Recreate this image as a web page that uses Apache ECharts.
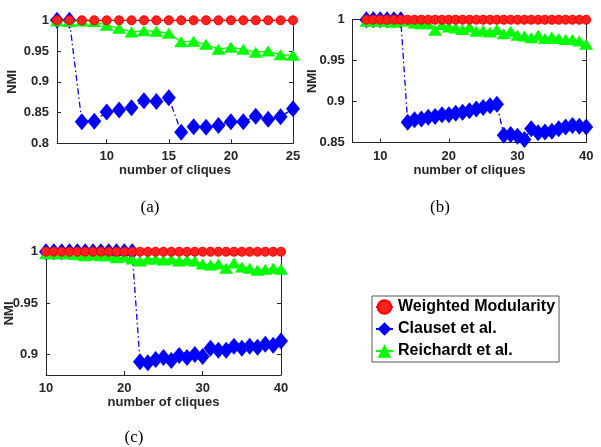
<!DOCTYPE html>
<html><head><meta charset="utf-8">
<script src="https://cdn.jsdelivr.net/npm/echarts@6/dist/echarts.min.js"></script>
<style>html,body{margin:0;padding:0;background:#fff}#c{width:601px;height:447px}</style>
</head><body><div id="c"></div>
<script>
// ---- Panel (a) ----
const xA = [6,7,8,9,10,11,12,13,14,15,16,17,18,19,20,21,22,23,24,25];
const redA = [1,1,1,1,1,1,1,1,1,1,1,1,1,1,1,1,1,1,1,1];
const blueA = [1.0,1.0,0.835,0.836,0.851,0.854,0.858,0.869,0.868,0.874,0.818,0.827,0.826,0.829,0.835,0.835,0.844,0.839,0.843,0.856];
const greenA = [0.999,0.998,0.999,0.998,0.992,0.987,0.981,0.983,0.982,0.979,0.965,0.966,0.961,0.953,0.956,0.953,0.948,0.950,0.944,0.943];
// ---- Panel (b) ----
const xB = [8,9,10,11,12,13,14,15,16,17,18,19,20,21,22,23,24,25,26,27,28,29,30,31,32,33,34,35,36,37,38,39,40];
const redB = [1,1,1,1,1,1,1,1,1,1,1,1,1,1,1,1,1,1,1,1,1,1,1,1,1,1,1,1,1,1,1,1,1];
const blueB = [1.0,1.0,1.0,1.0,1.0,1.0,0.875,0.878,0.879,0.881,0.882,0.884,0.884,0.886,0.887,0.889,0.891,0.893,0.895,0.897,0.859,0.860,0.858,0.854,0.867,0.862,0.863,0.864,0.867,0.869,0.871,0.870,0.869];
const greenB = [0.998,0.998,0.998,0.998,0.997,0.998,0.999,0.996,0.995,0.995,0.987,0.994,0.991,0.990,0.988,0.991,0.986,0.987,0.985,0.988,0.983,0.986,0.981,0.980,0.978,0.981,0.977,0.979,0.977,0.976,0.976,0.974,0.970];
// ---- Panel (c) ----
const xC = [10,11,12,13,14,15,16,17,18,19,20,21,22,23,24,25,26,27,28,29,30,31,32,33,34,35,36,37,38,39,40];
const redC = [1,1,1,1,1,1,1,1,1,1,1,1,1,1,1,1,1,1,1,1,1,1,1,1,1,1,1,1,1,1,1];
const blueC = [1,1,1,1,1,1,1,1,1,1,1,1,0.893,0.892,0.895,0.897,0.894,0.899,0.897,0.900,0.898,0.906,0.904,0.904,0.908,0.906,0.908,0.907,0.910,0.909,0.913];
const greenC = [0.998,0.998,0.998,0.998,0.997,0.996,0.997,0.996,0.996,0.994,0.995,0.993,0.991,0.993,0.993,0.992,0.993,0.991,0.992,0.991,0.988,0.987,0.988,0.984,0.989,0.985,0.984,0.982,0.983,0.984,0.983];
// ---- ticks ----
const xTicksA = [10,15,20,25];
const xTicksBC = [10,20,30,40];
const yTicksA = [0.8,0.85,0.9,0.95,1];
const yTicksB = [0.85,0.9,0.95,1];
const yTicksC = [0.9,0.95,1];
const names = ['Weighted Modularity','Clauset et al.','Reichardt et al.'];
const captions = ['(a)','(b)','(c)'];

const FF = '"Liberation Sans", Arial, sans-serif';
const AX = '#262626';

function pairs(xs, ys){ return xs.map((x,i)=>[x,ys[i]]); }

const grids = [
  {left:57, top:20.3, width:236, height:123, outerBoundsMode:'none', containLabel:false},
  {left:352.7, top:19.7, width:233.5, height:123, outerBoundsMode:'none', containLabel:false},
  {left:46, top:251.7, width:235, height:123.3, outerBoundsMode:'none', containLabel:false}
];
const xr = [[6,25],[6,40],[10,40]];
const yr = [[0.8,1],[0.85,1],[0.88,1]];
const xt = [xTicksA, xTicksBC, xTicksBC];
const yt = [yTicksA, yTicksB, yTicksC];
const nameGapY = [38, 33.5, 30.5];

const xAxis = [], yAxis = [], series = [];
const fmt = v => String(+(+v).toFixed(2));
for (let g=0; g<3; g++){
  ['bottom','top'].forEach(pos=>{
    xAxis.push({type:'value', gridIndex:g, position:pos, min:xr[g][0], max:xr[g][1],
      name: pos==='bottom' ? 'number of cliques' : '', nameLocation:'middle', nameGap:21, nameMoveOverlap:false,
      nameTextStyle:{fontFamily:FF, fontWeight:'bold', fontSize:13, color:AX},
      axisLine:{show:true, onZero:false, lineStyle:{color:AX, width:1}},
      axisTick:{show:true, inside:true, length:4, customValues:xt[g], lineStyle:{color:AX}},
      axisLabel:{show:pos==='bottom', customValues:xt[g], margin:7, fontFamily:FF, fontWeight:'bold', fontSize:13, color:AX, formatter:fmt},
      splitLine:{show:false}});
  });
  ['left','right'].forEach(pos=>{
    yAxis.push({type:'value', gridIndex:g, position:pos, min:yr[g][0], max:yr[g][1],
      name: pos==='left' ? 'NMI' : '', nameLocation:'middle', nameGap:nameGapY[g], nameMoveOverlap:false,
      nameTextStyle:{fontFamily:FF, fontWeight:'bold', fontSize:13, color:AX},
      axisLine:{show:true, onZero:false, lineStyle:{color:AX, width:1}},
      axisTick:{show:true, inside:true, length:4, customValues:yt[g], lineStyle:{color:AX}},
      axisLabel:{show:pos==='left', customValues:yt[g], margin:8, fontFamily:FF, fontWeight:'bold', fontSize:13, color:AX, formatter:fmt},
      splitLine:{show:false}});
  });
}
const data = [
  [xA, redA, blueA, greenA],
  [xB, redB, blueB, greenB],
  [xC, redC, blueC, greenC]
];
for (let g=0; g<3; g++){
  const [xs, r, b, gr] = data[g];
  series.push({name:names[1], type:'line', xAxisIndex:2*g, yAxisIndex:2*g, data:pairs(xs,b), clip:false, z:2,
    symbol:'diamond', symbolSize:[14,17], itemStyle:{color:'#0000ff'},
    lineStyle:{color:'#0000ff', width:1.3, type:[6,3,1.5,3]}, animation:false});
  series.push({name:names[2], type:'line', xAxisIndex:2*g, yAxisIndex:2*g, data:pairs(xs,gr), clip:false, z:3,
    symbol:'triangle', symbolSize:[14,11], itemStyle:{color:'#00ff00'},
    lineStyle:{color:'#00ff00', width:1.3}, animation:false});
  series.push({name:names[0], type:'line', xAxisIndex:2*g, yAxisIndex:2*g, data:pairs(xs,r), clip:false, z:4,
    symbol:'circle', symbolSize:9, itemStyle:{color:'#ff2020', borderColor:'#ff0000', borderWidth:1},
    lineStyle:{color:'#ff0000', width:1.3}, animation:false});
}

const capPos = [[150,208],[440,208],[134,438]];
const graphic = captions.map((t,i)=>({type:'text', x:capPos[i][0], y:capPos[i][1],
  style:{text:t, font:'17px "Liberation Serif", "Times New Roman", serif', fill:'#000', textAlign:'center', textVerticalAlign:'middle'}}));

const chart = echarts.init(document.getElementById('c'), null, {renderer:'canvas'});
chart.setOption({
  animation:false,
  backgroundColor:'#fff',
  grid: grids,
  xAxis, yAxis, series, graphic,
  legend:{left:372, top:296, orient:'vertical', backgroundColor:'#fff', borderColor:'#555', borderWidth:1,
    padding:[3,4,3,3], itemGap:6, itemWidth:17, itemHeight:17, selectedMode:false,
    textStyle:{fontFamily:FF, fontWeight:'bold', fontSize:16, color:'#000'},
    data:names}
});
</script></body></html>
